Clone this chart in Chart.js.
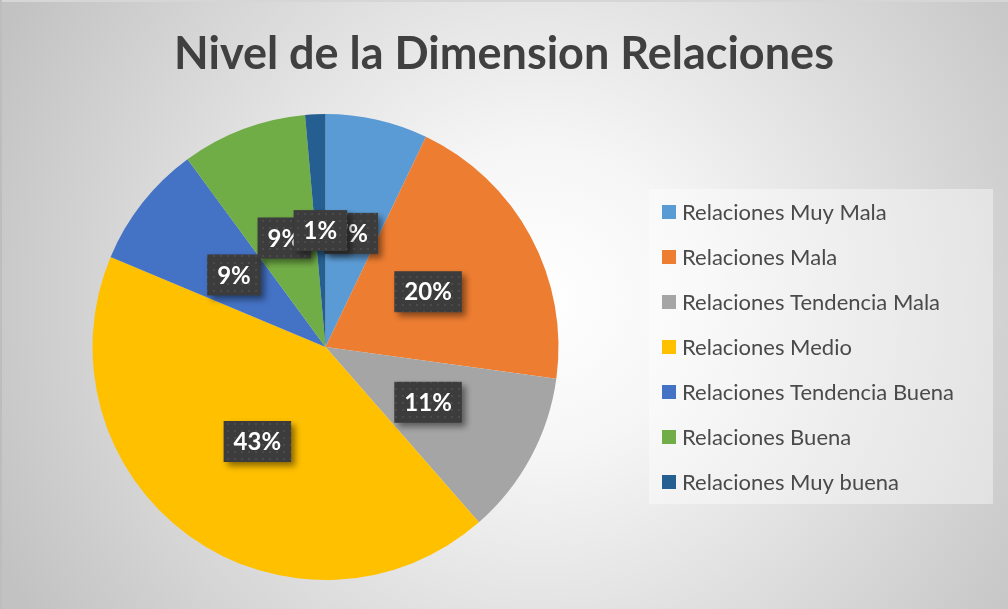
<!DOCTYPE html>
<html>
<head>
<meta charset="utf-8">
<script src="https://cdn.jsdelivr.net/npm/chart.js@4.4.0/dist/chart.umd.min.js"></script>
<style>
  body { margin: 0; background: #c6c6c6; }
  #wrap { width: 1008px; height: 609px; }
</style>
</head>
<body>
<div id="wrap"><canvas id="pieChart" width="1008" height="609"></canvas></div>
<script>
let chartTitle = "Nivel de la Dimension Relaciones";
let categories = [
    "Relaciones Muy Mala",
    "Relaciones Mala",
    "Relaciones Tendencia Mala",
    "Relaciones Medio",
    "Relaciones Tendencia Buena",
    "Relaciones Buena",
    "Relaciones Muy buena"
];
let values = [7.1, 20.1, 11.4, 42.8, 8.6, 8.7, 1.4];
let colors = ['#5B9BD5', '#ED7D31', '#A5A5A5', '#FFC000', '#4472C4', '#70AD47', '#255E91'];

// dotted dark tile used behind the percentage labels
function makePattern(ctx) {
    let tile = document.createElement('canvas');
    tile.width = 7;
    tile.height = 7;
    let t = tile.getContext('2d');
    t.fillStyle = '#3c3c3c';
    t.fillRect(0, 0, 7, 7);
    t.fillStyle = '#4b4b4b';
    t.fillRect(3, 3, 2, 2);
    return ctx.createPattern(tile, 'repeat');
}

// background, title and legend
let decor = {
    id: 'decor',
    beforeDraw(chart) {
        let ctx = chart.ctx;
        let w = chart.width, h = chart.height;
        ctx.save();
        let g = ctx.createRadialGradient(540, 300, 0, 540, 300, 600);
        g.addColorStop(0, '#ffffff');
        g.addColorStop(0.25, '#f6f6f6');
        g.addColorStop(1, '#c2c2c2');
        ctx.fillStyle = g;
        ctx.fillRect(0, 0, w, h);
        ctx.fillStyle = '#d6d6d6';
        ctx.fillRect(0, 0, w, 2);
        ctx.fillStyle = '#bdbdbd';
        ctx.fillRect(0, 0, 2, h);

        ctx.fillStyle = '#404040';
        ctx.font = 'bold 45px Lato';
        ctx.textAlign = 'center';
        ctx.textBaseline = 'alphabetic';
        ctx.fillText(chartTitle, 504, 69);

        // legend box
        ctx.fillStyle = 'rgba(255,255,255,0.4)';
        ctx.fillRect(649, 189, 344, 315);
        ctx.font = '22px Lato';
        ctx.textAlign = 'left';
        ctx.textBaseline = 'middle';
        categories.forEach((c, i) => {
            let y = 212 + i * 45;
            ctx.fillStyle = colors[i];
            ctx.fillRect(662, y - 7, 14, 14);
            ctx.fillStyle = '#4a4a4a';
            ctx.fillText(c, 682, y + 1);
        });
        ctx.restore();
    }
};

// percentage labels in dark boxes
let pctLabels = {
    id: 'pctLabels',
    afterDatasetsDraw(chart) {
        let ctx = chart.ctx;
        let meta = chart.getDatasetMeta(0);
        let total = values.reduce((a, b) => a + b, 0);
        let pattern = makePattern(ctx);
        ctx.save();
        ctx.font = 'bold 24px Lato';
        ctx.textAlign = 'center';
        ctx.textBaseline = 'middle';
        meta.data.forEach((arc, i) => {
            let p = arc.tooltipPosition();
            let txt = Math.round(values[i] / total * 100) + '%';
            let bw = ctx.measureText(txt).width + 20;
            let bh = 41;
            ctx.save();
            ctx.shadowColor = 'rgba(0,0,0,0.45)';
            ctx.shadowBlur = 6;
            ctx.shadowOffsetX = 4;
            ctx.shadowOffsetY = 4;
            ctx.fillStyle = pattern;
            ctx.fillRect(p.x - bw / 2, p.y - bh / 2, bw, bh);
            ctx.restore();
            ctx.fillStyle = '#ffffff';
            ctx.fillText(txt, p.x, p.y + 1);
        });
        ctx.restore();
    }
};

new Chart(document.getElementById('pieChart'), {
    type: 'pie',
    data: {
        labels: categories,
        datasets: [{
            data: values,
            backgroundColor: colors,
            borderWidth: 0
        }]
    },
    options: {
        responsive: false,
        animation: false,
        layout: {
            padding: { left: 92.5, right: 449.5, top: 114, bottom: 29 }
        },
        plugins: {
            legend: { display: false },
            title: { display: false },
            tooltip: { enabled: false }
        }
    },
    plugins: [decor, pctLabels]
});
</script>
</body>
</html>
